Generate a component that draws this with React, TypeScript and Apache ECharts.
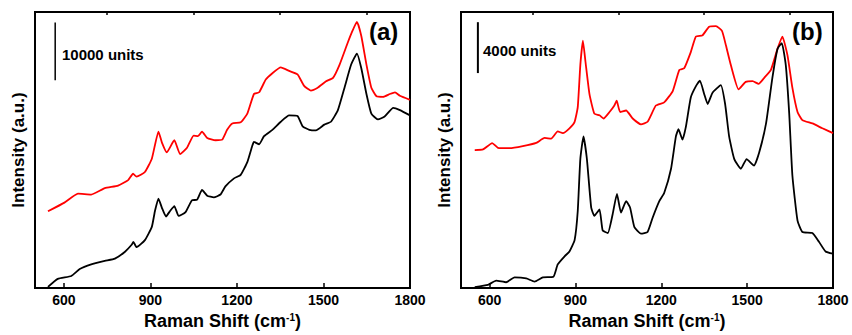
import React, { useEffect, useRef } from "react";
import * as echarts from "echarts";

// Raman shift (cm^-1) vs intensity (counts)
const redA: [number, number][] = [
  [545, 13300], [602, 14800], [649, 16350], [695, 16200], [742, 17300], [788, 17750],
  [823, 18700], [840, 19800], [852, 19300], [881, 20100], [905, 22400], [928, 27100],
  [940, 25200], [957, 23500], [983, 25600], [1003, 23200], [1027, 24300], [1050, 26400],
  [1065, 26300], [1079, 27100], [1097, 26000], [1126, 25600], [1149, 25700], [1166, 27400],
  [1184, 28500], [1213, 28700], [1236, 30200], [1259, 33600], [1277, 33900], [1300, 36100],
  [1323, 37200], [1352, 38200], [1381, 37600], [1410, 37000], [1433, 35000], [1456, 34200],
  [1480, 34700], [1509, 35800], [1533, 36400], [1556, 38700], [1585, 42600], [1602, 44700],
  [1616, 46100], [1631, 43700], [1649, 38700], [1666, 34700], [1684, 33200], [1707, 33100],
  [1730, 33600], [1748, 33900], [1765, 33300], [1800, 32600],
];

const blackA: [number, number][] = [
  [545, 200], [579, 1600], [626, 2100], [655, 3300], [695, 4100], [742, 4700], [777, 5100],
  [812, 6300], [835, 7500], [841, 8000], [852, 7100], [881, 8300], [905, 10600], [916, 13400],
  [928, 15500], [940, 13900], [954, 12400], [969, 13400], [983, 14200], [998, 12500],
  [1021, 13100], [1044, 15200], [1062, 15300], [1079, 17000], [1097, 16000], [1120, 15700],
  [1143, 16200], [1160, 17600], [1190, 19000], [1213, 19600], [1236, 21800], [1253, 24600],
  [1259, 25300], [1277, 24900], [1294, 26300], [1323, 27400], [1352, 28800], [1381, 29900],
  [1410, 29800], [1428, 28000], [1451, 27400], [1474, 27300], [1503, 28300], [1526, 28800],
  [1550, 30800], [1573, 34700], [1596, 38700], [1616, 40600], [1631, 38100], [1649, 33600],
  [1666, 30200], [1689, 29200], [1712, 29700], [1742, 31200], [1765, 30800], [1800, 29900],
];

const redB: [number, number][] = [
  [548, 10850], [577, 10900], [609, 11400], [629, 11030], [670, 11000], [716, 11160],
  [763, 11410], [792, 11800], [815, 11750], [838, 12310], [856, 12180], [879, 12560],
  [897, 13070], [908, 14220], [917, 17530], [926, 19440], [935, 17790], [949, 15240],
  [966, 13710], [984, 13580], [998, 13330], [1019, 13840], [1036, 14350], [1044, 14730],
  [1056, 13840], [1077, 13960], [1100, 13330], [1129, 12870], [1152, 13070], [1181, 14350],
  [1210, 14600], [1240, 15490], [1263, 17150], [1280, 17280], [1303, 18550], [1321, 19770],
  [1344, 19870], [1367, 20540], [1391, 20590], [1412, 20210], [1426, 19060], [1443, 17530],
  [1470, 15620], [1495, 16210], [1519, 16260], [1540, 16050], [1559, 16510], [1583, 17150],
  [1606, 18800], [1623, 19770], [1641, 18290], [1658, 15750], [1676, 13840], [1693, 13200],
  [1728, 12940], [1763, 12560], [1800, 12180],
];

const blackB: [number, number][] = [
  [548, 80], [594, 250], [623, 590], [658, 460], [687, 840], [728, 760], [757, 510],
  [786, 840], [823, 890], [838, 1860], [862, 2500], [879, 2880], [897, 3770], [908, 6060],
  [917, 10140], [928, 11920], [940, 10140], [955, 6320], [966, 5680], [984, 6190],
  [995, 4540], [1013, 4330], [1030, 5810], [1045, 7410], [1059, 5940], [1077, 6830],
  [1091, 6320], [1106, 4790], [1129, 4280], [1152, 4410], [1170, 5550], [1193, 6830],
  [1210, 7470], [1234, 9380], [1251, 11920], [1260, 12490], [1274, 11670], [1286, 12690],
  [1303, 14980], [1321, 15870], [1335, 16310], [1350, 15240], [1362, 14470], [1379, 15360],
  [1408, 15950], [1423, 14470], [1437, 11920], [1455, 10140], [1478, 9380], [1498, 10140],
  [1524, 9630], [1542, 10650], [1566, 12940], [1588, 16510], [1606, 18800], [1621, 19260],
  [1635, 17530], [1647, 13710], [1658, 8870], [1676, 5300], [1693, 4410], [1728, 4330],
  [1751, 3640], [1774, 2880], [1800, 2700],
];

// scale bars: 10000 units (a), 4000 units (b)
const scaleA: [number, number][] = [[570, 36000], [570, 46000]];
const scaleB: [number, number][] = [[559, 16900], [559, 20900]];

const majorTicks = [600, 900, 1200, 1500, 1800];
const minorTicks = [750, 1050, 1350, 1650];
const xRange = { min: 500, max: 1800 };
const yMaxA = 47800;
const yMaxB = 21700;

const FONT = '"Liberation Sans", Arial, Helvetica, sans-serif';

export default function App() {
  const ref = useRef<HTMLDivElement>(null);
  useEffect(() => {
    if (!ref.current) return;
    const chart = echarts.init(ref.current, undefined, { renderer: "svg" });
    const majorX = (gridIndex: number) => ({
      type: "value" as const,
      gridIndex,
      min: xRange.min,
      max: xRange.max,
      axisLine: { show: false },
      axisTick: {
        show: true,
        inside: true,
        length: 5,
        customValues: majorTicks,
        lineStyle: { color: "#000", width: 1.5 },
      },
      axisLabel: {
        customValues: majorTicks,
        formatter: (v: number) => String(v),
        margin: 5,
        color: "#000",
        fontFamily: FONT,
        fontWeight: "bold",
        fontSize: 14,
      },
      splitLine: { show: false },
      name: "Raman Shift (cm{sup|-1})",
      nameLocation: "middle",
      nameGap: 12,
      nameTextStyle: {
        color: "#000",
        fontFamily: FONT,
        fontWeight: "bold",
        fontSize: 18,
        rich: {
          sup: {
            fontSize: 10,
            fontWeight: "bold",
            fontFamily: FONT,
            color: "#000",
            verticalAlign: "top",
            padding: [0, 0, 8, 0],
          },
        },
      },
    });
    const minorX = (gridIndex: number) => ({
      type: "value" as const,
      gridIndex,
      min: xRange.min,
      max: xRange.max,
      axisLine: { show: false },
      axisTick: {
        show: true,
        inside: true,
        length: 3,
        customValues: minorTicks,
        lineStyle: { color: "#000", width: 1.5 },
      },
      axisLabel: { show: false },
      splitLine: { show: false },
    });
    const yAx = (gridIndex: number, max: number) => ({
      type: "value" as const,
      gridIndex,
      min: 0,
      max,
      axisLine: { show: false },
      axisTick: { show: false },
      axisLabel: { show: false },
      splitLine: { show: false },
      name: "Intensity (a.u.)",
      nameLocation: "middle",
      nameGap: 8,
      nameTextStyle: {
        color: "#000",
        fontFamily: FONT,
        fontWeight: "bold",
        fontSize: 17,
      },
    });
    const line = (data: [number, number][], color: string, xi: number, yi: number, w = 1.8) => ({
      type: "line" as const,
      data,
      xAxisIndex: xi,
      yAxisIndex: yi,
      showSymbol: false,
      symbol: "none",
      smooth: 0.15,
      lineStyle: { color, width: w },
      silent: true,
    });
    const textStyle = (text: string, size: number) => ({
      text,
      fill: "#000",
      font: `bold ${size}px ${FONT}`,
    });
    chart.setOption({
      animation: false,
      backgroundColor: "#fff",
      grid: [
        { left: 35, top: 12, width: 375, height: 284, show: true, borderColor: "#000", borderWidth: 2, backgroundColor: "transparent" },
        { left: 461, top: 12, width: 372, height: 284, show: true, borderColor: "#000", borderWidth: 2, backgroundColor: "transparent" },
      ],
      xAxis: [majorX(0), majorX(1), minorX(0), minorX(1)],
      yAxis: [yAx(0, yMaxA), yAx(1, yMaxB)],
      series: [
        line(redA, "#ff0000", 0, 0),
        line(blackA, "#000000", 0, 0),
        { ...line(scaleA, "#000000", 0, 0, 1.5), smooth: false },
        line(redB, "#ff0000", 1, 1),
        line(blackB, "#000000", 1, 1),
        { ...line(scaleB, "#000000", 1, 1, 2), smooth: false },
      ],
      graphic: [
        { type: "text", left: 62, top: 47, style: textStyle("10000 units", 15) },
        { type: "text", left: 483, top: 43, style: textStyle("4000 units", 15) },
        { type: "text", left: 369, top: 19, style: textStyle("(a)", 24) },
        { type: "text", left: 792, top: 19, style: textStyle("(b)", 24) },
      ],
    });
    return () => chart.dispose();
  }, []);
  return <div ref={ref} style={{ width: 852, height: 335, position: "absolute", left: 0, top: 0 }} />;
}
